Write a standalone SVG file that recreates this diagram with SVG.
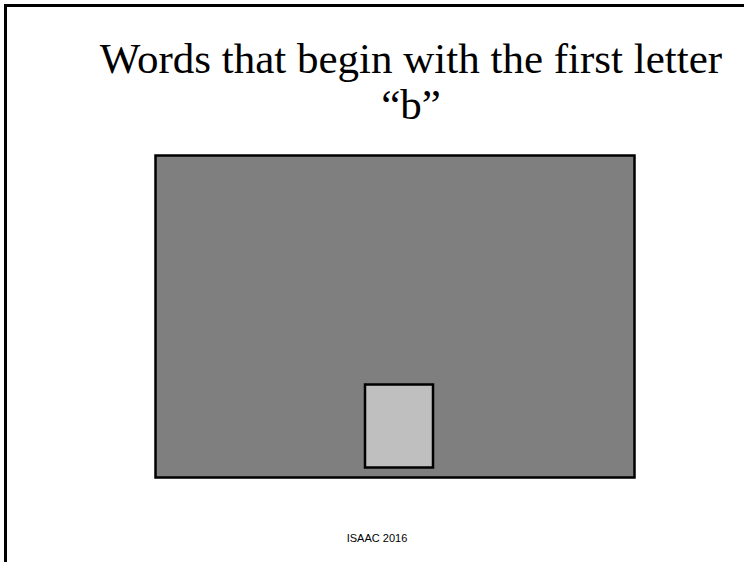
<svg xmlns="http://www.w3.org/2000/svg" width="744" height="562" viewBox="0 0 744 562">
<style>
.title{font-family:"Liberation Serif","Times New Roman",serif;font-size:43px;fill:#000;text-anchor:middle}
.foot{font-family:"Liberation Sans",Arial,sans-serif;font-size:11px;fill:#000;text-anchor:middle}
.box{stroke:#000;stroke-width:2.5}
</style>
<rect x="0" y="0" width="744" height="562" fill="#fff"/>
<path d="M5.5,562 V5.5 H744" fill="none" stroke="#000" stroke-width="3"/>
<g id="title">
<text class="title" x="411" y="73">Words that begin with the first letter</text>
<text class="title" x="411" y="119">“b”</text>
</g>
<g id="outer"><rect class="box" x="155.5" y="155.5" width="479" height="322" fill="#7f7f7f"/></g>
<g id="inner"><rect class="box" x="365" y="384.5" width="68" height="83" fill="#bfbfbf"/></g>
<g id="connectors"/>
<g id="footer"><text class="foot" x="377" y="542">ISAAC 2016</text></g>
</svg>
